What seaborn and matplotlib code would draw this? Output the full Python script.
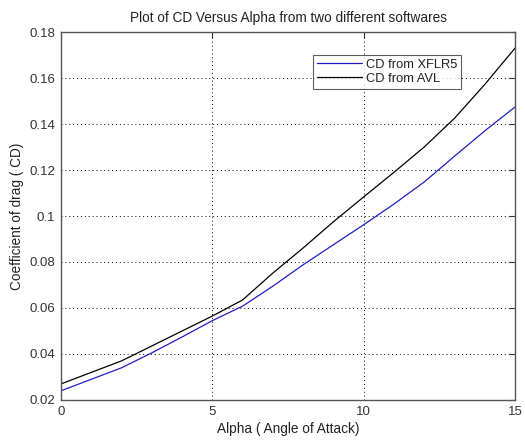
import matplotlib
matplotlib.use("Agg")
import matplotlib.pyplot as plt
import seaborn as sns
import pandas as pd

alpha = [0, 1, 2, 3, 4, 5, 6, 7, 8, 9, 10, 11, 12, 13, 14, 15]
cd_xflr5 = [0.0240, 0.0290, 0.0340, 0.0405, 0.0474, 0.0545, 0.0608, 0.0695, 0.0788, 0.0875, 0.0962, 0.1052, 0.1148, 0.1260, 0.1370, 0.1474]
cd_avl = [0.0270, 0.0320, 0.0370, 0.0435, 0.0500, 0.0565, 0.0635, 0.0752, 0.0861, 0.0975, 0.1083, 0.1190, 0.1300, 0.1425, 0.1572, 0.1730]
series_names = ["CD from XFLR5", "CD from AVL"]
xticks = [0, 5, 10, 15]
yticks = [0.02, 0.04, 0.06, 0.08, 0.10, 0.12, 0.14, 0.16, 0.18]
ytick_labels = ["0.02", "0.04", "0.06", "0.08", "0.1", "0.12", "0.14", "0.16", "0.18"]

df = pd.DataFrame({
    "alpha": alpha * 2,
    "CD": cd_xflr5 + cd_avl,
    "series": [series_names[0]] * len(alpha) + [series_names[1]] * len(alpha),
})

sns.set_style("white")
plt.rcParams["font.family"] = ["Liberation Sans", "DejaVu Sans"]

fig = plt.figure(figsize=(5.25, 4.41), dpi=100)
ax = fig.add_axes([0.1162, 0.0930, 0.8648, 0.8344])

sns.lineplot(data=df, x="alpha", y="CD", hue="series",
             palette={series_names[0]: "#1e1ec8", series_names[1]: "black"},
             linewidth=0.9, ax=ax)

ax.set_xlim(0, 15)
ax.set_ylim(0.02, 0.18)
ax.set_xticks(xticks)
ax.set_xticklabels([str(t) for t in xticks])
ax.set_yticks(yticks)
ax.set_yticklabels(ytick_labels)

ax.grid(True, linestyle=(0, (1, 3)), color="black", linewidth=0.7)
ax.tick_params(direction="in", top=True, right=True, length=4, width=0.8,
               labelsize=9.5, colors="#333333", pad=4)
for s in ax.spines.values():
    s.set_color("#555555")
    s.set_linewidth(1.0)

ax.set_xlabel("Alpha ( Angle of Attack)", fontsize=9.8, color="#222222", labelpad=3)
ax.set_ylabel("Coefficient of drag ( CD)", fontsize=9.8, color="#222222", labelpad=4)
ax.set_title("Plot of CD Versus Alpha from two different softwares", fontsize=9.8, color="#222222", pad=7)

leg = ax.legend(loc="upper left", bbox_to_anchor=(0.54, 0.955), fontsize=9.3,
                frameon=True, fancybox=False, edgecolor="#333333",
                handlelength=3.5, borderpad=0.3, labelspacing=0.15, handletextpad=0.3)
leg.get_frame().set_linewidth(0.8)
for t in leg.get_texts():
    t.set_color("#222222")

fig.savefig("out.png", dpi=100)
